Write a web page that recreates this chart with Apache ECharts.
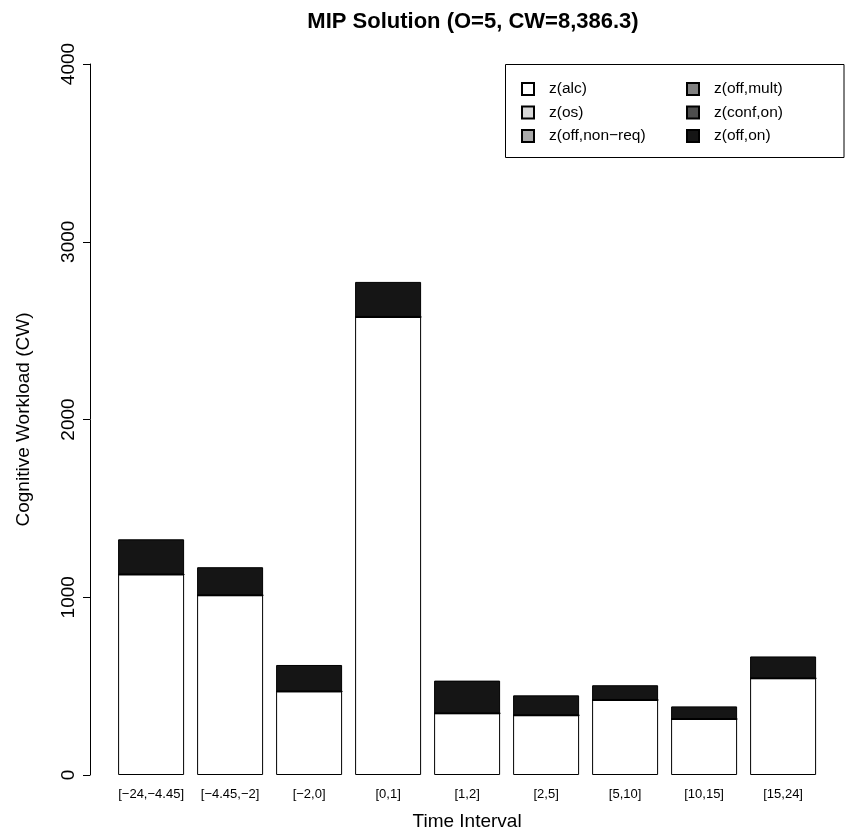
<!DOCTYPE html>
<html>
<head>
<meta charset="utf-8">
<script src="https://cdn.jsdelivr.net/npm/echarts@6/dist/echarts.min.js"></script>
<style>
  html, body { margin: 0; padding: 0; background: #fff; }
  #main { width: 846px; height: 837px; }
</style>
</head>
<body>
<div id="main"></div>
<script>
// time intervals (x categories)
var intervals = ['[\u221224,\u22124.45]', '[\u22124.45,\u22122]', '[\u22122,0]', '[0,1]', '[1,2]', '[2,5]', '[5,10]', '[10,15]', '[15,24]'];
// stacked components, bottom to top
var zAlc       = [1128, 1011, 470, 2577, 347, 336, 422, 315, 544];
var zOs        = [0, 0, 0, 0, 0, 0, 0, 0, 0];
var zOffNonReq = [0, 0, 0, 0, 0, 0, 0, 0, 0];
var zOffMult   = [0, 0, 0, 0, 0, 0, 0, 0, 0];
var zConfOn    = [0, 0, 0, 0, 0, 0, 0, 0, 0];
var zOffOn     = [198, 158, 149, 197, 184, 112, 83, 71, 123];
var yTicks = [0, 1000, 2000, 3000, 4000];

var font = 'Liberation Sans, Arial, Helvetica, sans-serif';

function bar(name, data, color) {
  return {
    name: name,
    type: 'bar',
    stack: 'cw',
    data: data,
    barWidth: 66,
    itemStyle: { color: color, borderColor: '#000', borderWidth: 1 },
    emphasis: { disabled: true }
  };
}

var legendText = { fontFamily: font, fontSize: 15.5, lineHeight: 16, color: '#000', padding: [0, 0, 0, 10] };

var myChart = echarts.init(document.getElementById('main'));
myChart.setOption({
  animation: false,
  backgroundColor: '#fff',
  title: {
    text: 'MIP Solution (O=5, CW=8,386.3)',
    left: 468, top: 6, textAlign: 'center',
    textStyle: { fontFamily: font, fontSize: 22, fontWeight: 'bold', color: '#000' }
  },
  grid: { left: 111.6, right: 23.4, top: 64, bottom: 62 },
  legend: [
    {
      data: ['z(alc)', 'z(os)', 'z(off,non\u2212req)'],
      orient: 'vertical', left: 521, top: 81, padding: 0,
      icon: 'rect', itemWidth: 12, itemHeight: 12, itemGap: 7.5, selectedMode: false,
      textStyle: legendText
    },
    {
      data: ['z(off,mult)', 'z(conf,on)', 'z(off,on)'],
      orient: 'vertical', left: 686, top: 81, padding: 0,
      icon: 'rect', itemWidth: 12, itemHeight: 12, itemGap: 7.5, selectedMode: false,
      textStyle: legendText
    }
  ],
  graphic: [{
    type: 'rect',
    shape: { x: 505.5, y: 64.5, width: 338.5, height: 93 },
    style: { fill: 'none', stroke: '#000', lineWidth: 1 }
  }],
  xAxis: {
    type: 'category',
    data: intervals,
    axisLine: { show: false },
    axisTick: { show: false },
    axisLabel: { fontFamily: font, fontSize: 13, color: '#000', margin: 13, interval: 0 },
    name: 'Time Interval',
    nameLocation: 'middle',
    nameGap: 37,
    nameTextStyle: { fontFamily: font, fontSize: 19, color: '#000' }
  },
  yAxis: {
    type: 'value',
    min: yTicks[0], max: yTicks[yTicks.length - 1], interval: 1000,
    offset: 21.6,
    splitLine: { show: false },
    axisLine: { show: true, lineStyle: { color: '#000', width: 1 } },
    axisTick: { show: true, length: 7, lineStyle: { color: '#000' } },
    axisLabel: {
      fontFamily: font, fontSize: 19, color: '#000', rotate: 90, margin: 12,
      formatter: function (v) { return String(v); }
    },
    name: 'Cognitive Workload (CW)',
    nameLocation: 'middle',
    nameGap: 57,
    nameTextStyle: { fontFamily: font, fontSize: 19, color: '#000' }
  },
  series: [
    bar('z(alc)', zAlc, '#ffffff'),
    bar('z(os)', zOs, '#d8d8d8'),
    bar('z(off,non\u2212req)', zOffNonReq, '#a9a9a9'),
    bar('z(off,mult)', zOffMult, '#808080'),
    bar('z(conf,on)', zConfOn, '#4d4d4d'),
    bar('z(off,on)', zOffOn, '#151515')
  ]
});
</script>
</body>
</html>
